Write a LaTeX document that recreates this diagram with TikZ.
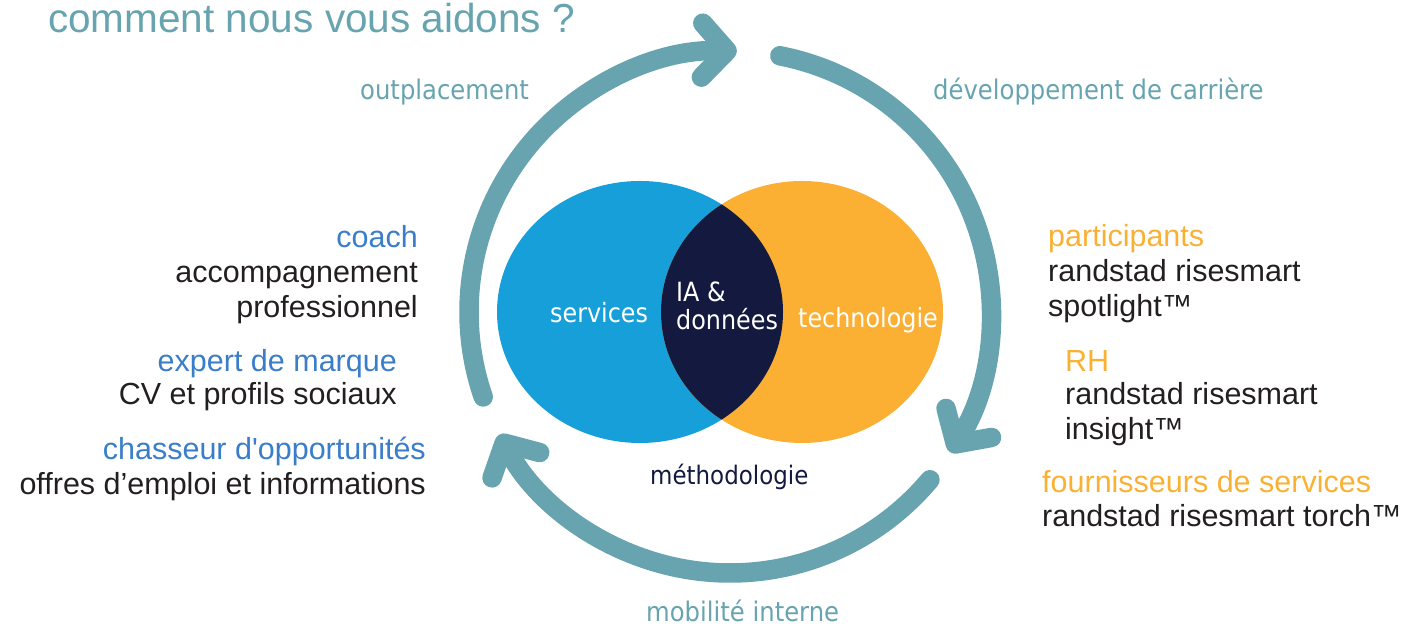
\documentclass[tikz,border=0pt]{standalone}
\usepackage{fontspec}
\setmainfont{Liberation Sans}
\newfontfamily\labelfont{DejaVu Sans}[FakeStretch=0.9]
\usetikzlibrary{arrows.meta}
\definecolor{ringteal}{HTML}{67A4AF}
\definecolor{svcblue}{HTML}{179FD9}
\definecolor{techorange}{HTML}{FBB034}
\definecolor{datanavy}{HTML}{13193F}
\definecolor{roleblue}{HTML}{3A7DC9}
\definecolor{roleorange}{HTML}{F9B134}
\definecolor{darktext}{HTML}{231F20}
\begin{document}
\begin{tikzpicture}[x=1pt,y=1pt,
					ring/.style={draw=ringteal, line width=19.5pt, line cap=round, -{Straight Barb[length=25pt,width=54pt,round]}},
					side/.style={inner sep=0, font=\fontsize{30.5}{35}\selectfont, text=darktext},
					cycle/.style={inner sep=0, font=\labelfont\fontsize{27}{30}\selectfont, text=ringteal},
					inside/.style={inner sep=0, font=\labelfont\fontsize{26.5}{30}\selectfont, text=white}]
					\useasboundingbox (0,0) rectangle (1401,628);
					
					\coordinate (hub) at (730,316);
					\draw[ring] (hub) ++(199:261) arc[start angle=199, end angle=88.5, radius=261];
					\draw[ring] (hub) ++(79:261) arc[start angle=79, end angle=-32.5, radius=261];
					\draw[ring] (hub) ++(-40:261) arc[start angle=-40, end angle=-152, radius=261];
					
					\fill[svcblue] (640,316) ellipse [x radius=143, y radius=131];
					\fill[techorange] (802,316) ellipse [x radius=141, y radius=131];
					\begin{scope}
						\clip (640,316) ellipse [x radius=143, y radius=131];
						\fill[datanavy] (802,316) ellipse [x radius=141, y radius=131];
					\end{scope}
					
					\node[inside, anchor=base west] (services) at (550,305) {services};
					\node[inside, anchor=base west] (techno) at (798,300) {technologie};
					\node[inside, anchor=base west] (ia) at (676,326) {IA \&};
					\node[inside, anchor=base west] (donnees) at (676,298) {données};
					\node[inside, anchor=base west, text=datanavy, font=\labelfont\fontsize{25.5}{30}\selectfont] (methodo) at (650,143) {méthodologie};
					
					\node[cycle, anchor=base west, font=\fontsize{40.5}{48}\selectfont] (title) at (48,595) {comment nous vous aidons ?};
					\node[cycle, anchor=base west] (outpl) at (360,528) {outplacement};
					\node[cycle, anchor=base west] (devcar) at (933,528) {développement de carrière};
					\node[cycle, anchor=base west] (mobint) at (646,6) {mobilité interne};
					
					\node[side, anchor=base east, text=roleblue] (coach) at (418,380) {coach};
					\node[side, anchor=base east] (coach1) at (418,345) {accompagnement};
					\node[side, anchor=base east] (coach2) at (418,310) {professionnel};
					\node[side, anchor=base east, text=roleblue] (expert) at (397,256) {expert de marque};
					\node[side, anchor=base east] (expert1) at (397,223) {CV et profils sociaux};
					\node[side, anchor=base east, text=roleblue] (chasseur) at (426,168) {chasseur d\textquotesingle opportunités};
					\node[side, anchor=base east] (chasseur1) at (426,133) {offres d’emploi et informations};
					
					\node[side, anchor=base west, text=roleorange] (partic) at (1048,381) {participants};
					\node[side, anchor=base west] (partic1) at (1048,346) {randstad risesmart};
					\node[side, anchor=base west] (partic2) at (1048,311) {spotlight™};
					\node[side, anchor=base west, text=roleorange] (rh) at (1065,256) {RH};
					\node[side, anchor=base west] (rh1) at (1065,223) {randstad risesmart};
					\node[side, anchor=base west] (rh2) at (1065,188) {insight™};
					\node[side, anchor=base west, text=roleorange] (fourn) at (1042,135) {fournisseurs de services};
					\node[side, anchor=base west] (fourn1) at (1042,101) {randstad risesmart torch™};
					
				\end{tikzpicture}
\end{document}
